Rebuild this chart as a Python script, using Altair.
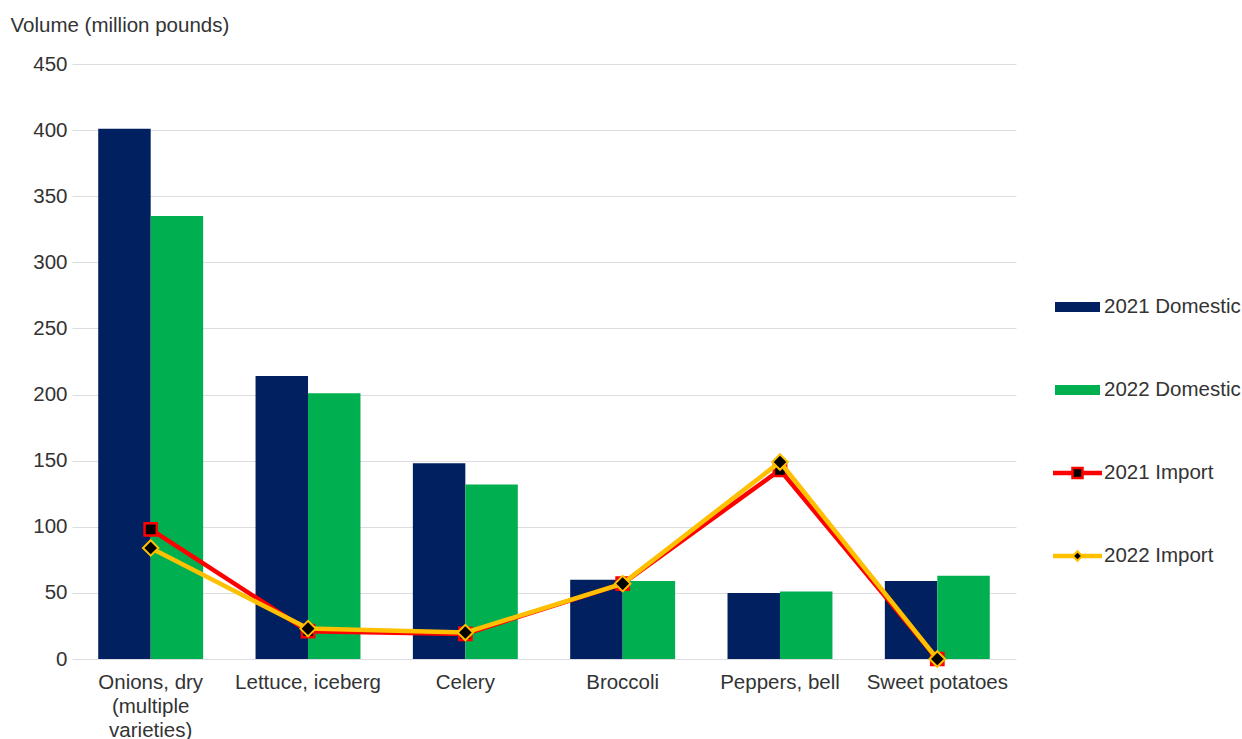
import altair as alt
import pandas as pd

categories = ["Onions, dry (multiple varieties)", "Lettuce, iceberg", "Celery",
              "Broccoli", "Peppers, bell", "Sweet potatoes"]
dom_2021 = [401, 214, 148, 60, 50, 59]
dom_2022 = [335, 201, 132, 59, 51, 63]
imp_2021 = [98, 21, 19, 57, 143, 0]
imp_2022 = [84, 23, 20, 57, 149, 0]
y_ticks = [0, 50, 100, 150, 200, 250, 300, 350, 400, 450]

FONT = "Liberation Sans"
TXT = "#333333"
NAVY = "#002060"
GREEN = "#00B050"
RED = "#FF0000"
GOLD = "#FFC000"
FS = 20.5

bars = pd.DataFrame(
    [{"cat": c, "series": "2021 Domestic", "v": v} for c, v in zip(categories, dom_2021)]
    + [{"cat": c, "series": "2022 Domestic", "v": v} for c, v in zip(categories, dom_2022)]
)
l21 = pd.DataFrame({"cat": categories, "v": imp_2021})
l22 = pd.DataFrame({"cat": categories, "v": imp_2022})

xscale = alt.Scale(domain=categories, paddingInner=0.333, paddingOuter=0.1667)
yscale = alt.Scale(domain=[0, 450])

label_expr = ("datum.value == 'Onions, dry (multiple varieties)' ? "
              "['Onions, dry', '(multiple', 'varieties)'] : datum.label")

x_axis = alt.Axis(title=None, labelAngle=0, labelExpr=label_expr, ticks=False, domain=False,
                  labelFont=FONT, labelFontSize=FS, labelColor=TXT, labelPadding=23,
                  labelLineHeight=24, labelBaseline="middle", grid=False)
y_axis = alt.Axis(title="Volume (million pounds)", values=y_ticks, ticks=False, domain=False,
                  labelFont=FONT, labelFontSize=FS, labelColor=TXT, labelPadding=5,
                  gridColor="#dcdce2", gridWidth=1,
                  titleAngle=0, titleAlign="left", titleBaseline="middle",
                  titleX=-62, titleY=-39, titleFont=FONT, titleFontSize=FS,
                  titleFontWeight="normal", titleColor=TXT)

bar_layer = alt.Chart(bars).mark_bar().encode(
    x=alt.X("cat:N", scale=xscale, axis=x_axis, sort=categories),
    xOffset=alt.XOffset("series:N", scale=alt.Scale(domain=["2021 Domestic", "2022 Domestic"], paddingInner=0, paddingOuter=0)),
    y=alt.Y("v:Q", scale=yscale, axis=y_axis),
    color=alt.Color("series:N", scale=alt.Scale(domain=["2021 Domestic", "2022 Domestic"], range=[NAVY, GREEN]), legend=None),
)

def line_layers(df, color, shape, size, sw):
    enc = dict(x=alt.X("cat:N", scale=xscale, sort=categories), y=alt.Y("v:Q", scale=yscale))
    ln = alt.Chart(df).mark_line(color=color, strokeWidth=4.5).encode(**enc)
    pt = alt.Chart(df).mark_point(shape=shape, size=size, filled=True, fill="black",
                                  stroke=color, strokeWidth=sw, opacity=1).encode(**enc)
    return [ln, pt]

layers = [bar_layer] + line_layers(l21, RED, "square", 150, 2.5) + line_layers(l22, GOLD, "diamond", 240, 2)

# manual legend
one = alt.Data(values=[{}])
LX0, LX1, TX = 983, 1028, 1032
legend_ys = [243, 326, 409, 492]
legend_names = ["2021 Domestic", "2022 Domestic", "2021 Import", "2022 Import"]
for i, (name, ly) in enumerate(zip(legend_names, legend_ys)):
    if i < 2:
        col = [NAVY, GREEN][i]
        layers.append(alt.Chart(one).mark_rect(color=col).encode(
            x=alt.value(LX0), x2=alt.value(LX1), y=alt.value(ly - 5), y2=alt.value(ly + 5)))
    else:
        col = [RED, GOLD][i - 2]
        layers.append(alt.Chart(one).mark_rule(color=col, strokeWidth=4.5).encode(
            x=alt.value(LX0 - 2), x2=alt.value(LX1 + 2), y=alt.value(ly)))
        shape, size, sw = [("square", 100, 2.5), ("diamond", 90, 2)][i - 2]
        layers.append(alt.Chart(one).mark_point(shape=shape, size=size, filled=True, fill="black",
                                               stroke=col, strokeWidth=sw, opacity=1).encode(
            x=alt.value((LX0 + LX1) / 2), y=alt.value(ly)))
    layers.append(alt.Chart(one).mark_text(align="left", baseline="middle", font=FONT,
                                          fontSize=FS, color=TXT).encode(
        x=alt.value(TX), y=alt.value(ly), text=alt.value(name)))

chart = alt.layer(*layers).properties(
    width=944, height=595,
    background="white",
    autosize=alt.AutoSizeParams(type="none"),
    padding={"left": 72, "top": 64, "right": 226, "bottom": 80},
).configure_view(stroke=None, strokeWidth=0)

chart.save("out.html", embed_options={"renderer": "svg", "actions": False})
